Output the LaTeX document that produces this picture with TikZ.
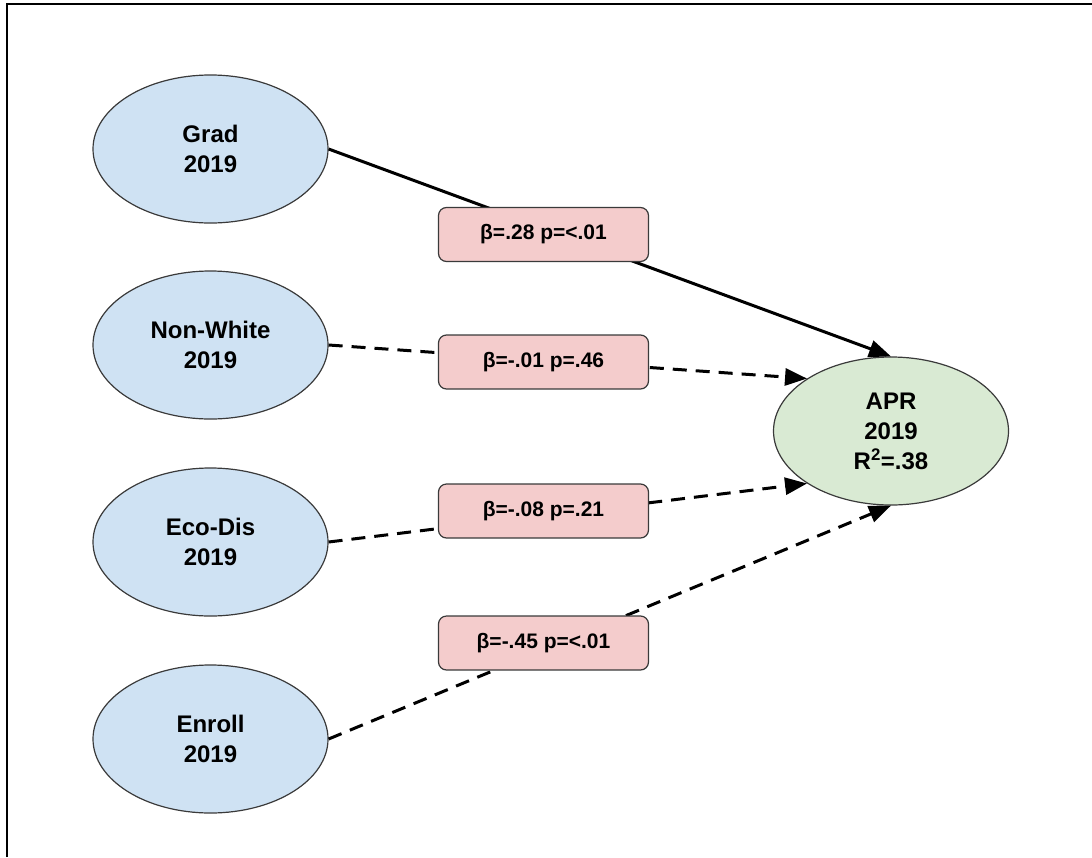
\documentclass[tikz,border=0pt]{standalone}
\usepackage{fontspec}
\setmainfont{Liberation Sans}
\usetikzlibrary{shapes.geometric,arrows.meta}
\definecolor{predfill}{HTML}{CFE2F3}
\definecolor{outfill}{HTML}{D9EAD3}
\definecolor{coeffill}{HTML}{F4CCCC}
\definecolor{edgegray}{HTML}{3A3A3A}
\tikzset{
  varnode/.style={ellipse, draw=edgegray, line width=1.2pt, fill=predfill,
    minimum width=235pt, minimum height=148pt, inner sep=0pt, align=center,
    font=\fontsize{24}{30}\selectfont\bfseries},
  outnode/.style={varnode, fill=outfill},
  coefbox/.style={rectangle, rounded corners=8pt, draw=edgegray, line width=1.2pt,
    fill=coeffill, minimum width=210pt, minimum height=54pt, inner sep=0pt,
    font=\fontsize{21}{24}\selectfont\bfseries},
  pathline/.style={line width=3pt, -{Triangle[length=22pt,width=17pt]}},
  weakpath/.style={pathline, dash pattern=on 14pt off 9pt},
  framepen/.style={line width=2.8pt, black}
}
\begin{document}
\begin{tikzpicture}[x=1pt,y=-1pt]
\useasboundingbox (0,0) rectangle (1092,857);
\coordinate (fb) at (7,857);
\coordinate (fc) at (7,4);
\coordinate (fr) at (1092,4);
\draw[framepen] (fb) -- (fc) -- (fr);

\node[varnode] (grad) at (210.5,149) {Grad\\2019};
\node[varnode] (nw) at (210.5,345) {Non-White\\2019};
\node[varnode] (eco) at (210.5,542) {Eco-Dis\\2019};
\node[varnode] (enr) at (210.5,739) {Enroll\\2019};
\node[outnode] (apr) at (891,431) {APR\\2019\\R\textsuperscript{2}=.38};

\draw[pathline] (grad.east) -- (apr.north);
\draw[weakpath] (nw.east) -- (apr.148);
\draw[weakpath] (eco.east) -- (apr.212);
\draw[weakpath] (enr.east) -- (apr.south);

\node[coefbox] (b1) at (543.5,234.5) {β=.28 p=<.01};
\node[coefbox] (b2) at (543.5,362) {β=-.01 p=.46};
\node[coefbox] (b3) at (543.5,511) {β=-.08 p=.21};
\node[coefbox] (b4) at (543.5,643) {β=-.45 p=<.01};
\end{tikzpicture}
\end{document}
